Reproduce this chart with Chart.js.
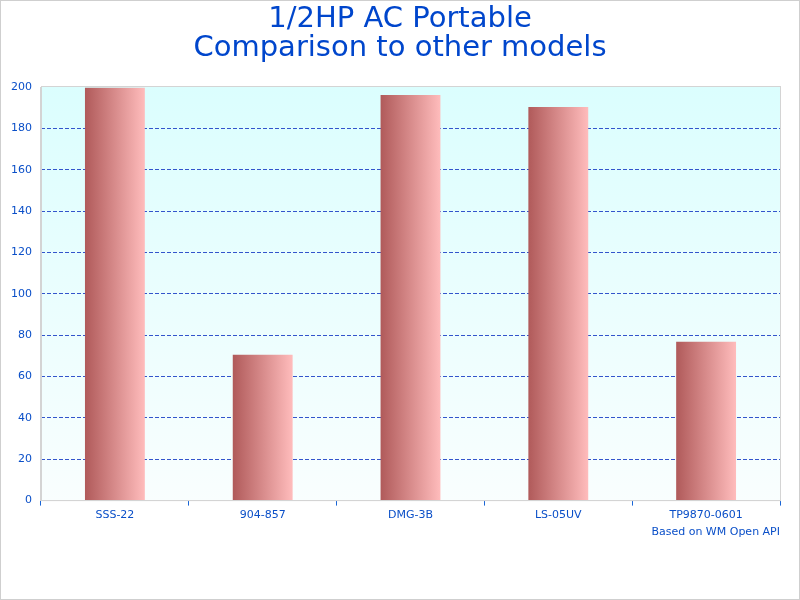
<!DOCTYPE html>
<html>
<head>
<meta charset="utf-8">
<script src="https://cdn.jsdelivr.net/npm/chart.js@4/dist/chart.umd.min.js"></script>
<style>
  html, body { margin: 0; padding: 0; background: #ffffff; }
  #wrap { width: 800px; height: 600px; position: relative; }
</style>
</head>
<body>
<div id="wrap"><canvas id="c" width="800" height="600"></canvas></div>
<script>
const titleLines = ['1/2HP AC Portable', 'Comparison to other models'];
const categories = ['SSS-22', '904-857', 'DMG-3B', 'LS-05UV', 'TP9870-0601'];
const values = [199.6, 70.5, 196.1, 190.3, 76.8];
const yTicksMin = 0;
const yTicksMax = 200;
const yTickStep = 20;
const footnote = 'Based on WM Open API';

const FONT = "'DejaVu Sans', Verdana, sans-serif";
const BLUE = '#0a4fc8';

const decorPlugin = {
  id: 'decor',
  afterLayout(chart) {
    const t = chart.titleBlock;
    if (t) { t.left = 0; t.right = chart.width; t.width = chart.width; }
  },
  beforeDraw(chart) {
    const { ctx, chartArea: a } = chart;
    ctx.save();
    ctx.fillStyle = '#ffffff';
    ctx.fillRect(0, 0, chart.width, chart.height);
    const g = ctx.createLinearGradient(0, a.top, 0, a.bottom);
    g.addColorStop(0, '#dbfefe');
    g.addColorStop(1, '#f9fefe');
    ctx.fillStyle = g;
    ctx.fillRect(a.left, a.top, a.right - a.left, a.bottom - a.top);
    ctx.restore();
  },
  afterDraw(chart) {
    const { ctx, chartArea: a } = chart;
    ctx.save();
    ctx.strokeStyle = '#d4d4d4';
    ctx.lineWidth = 1;
    ctx.strokeRect(a.left + 0.5, a.top - 0.5, a.right - a.left, a.bottom - a.top + 0.5);
    ctx.strokeStyle = '#cfcfcf';
    ctx.strokeRect(0.5, 0.5, chart.width - 1, chart.height - 1);
    ctx.restore();
  }
};

function barGradient(context) {
  const chart = context.chart;
  const xs = chart.scales && chart.scales.x;
  if (!chart.chartArea || !xs || context.dataIndex === undefined) return '#d88888';
  const meta = chart.getDatasetMeta(0);
  const el = meta.data[context.dataIndex];
  let cx = xs.getPixelForValue(context.dataIndex);
  let w = (xs.width / categories.length) * 0.405;
  if (el && el.width) { w = el.width; }
  const g = chart.ctx.createLinearGradient(cx - w / 2, 0, cx + w / 2, 0);
  g.addColorStop(0, '#b05a5a');
  g.addColorStop(1, '#ffbcbc');
  return g;
}

new Chart(document.getElementById('c'), {
  type: 'bar',
  data: {
    labels: categories,
    datasets: [{
      data: values,
      backgroundColor: barGradient,
      borderWidth: 0,
      barPercentage: 0.405,
      categoryPercentage: 1.0
    }]
  },
  options: {
    responsive: false,
    animation: false,
    layout: { padding: { top: 5, left: 2, right: 20, bottom: 61 } },
    plugins: {
      legend: { display: false },
      tooltip: { enabled: false },
      title: {
        display: true,
        text: titleLines,
        color: '#0046cc',
        font: { family: FONT, size: 29, weight: 'normal', lineHeight: 1.0 },
        padding: { top: 0, bottom: 24 }
      }
    },
    scales: {
      x: {
        offset: true,
        grid: {
          display: true,
          drawOnChartArea: false,
          drawTicks: true,
          tickLength: 5,
          color: '#1a66d6',
          offset: true
        },
        border: { display: true, color: '#d4d4d4' },
        ticks: {
          color: BLUE,
          font: { family: FONT, size: 11 },
          padding: 3,
          maxRotation: 0,
          autoSkip: false
        },
        title: {
          display: true,
          text: footnote,
          align: 'end',
          color: BLUE,
          font: { family: FONT, size: 11 },
          padding: { top: 1, bottom: 0 }
        }
      },
      y: {
        min: yTicksMin,
        max: yTicksMax,
        grid: {
          drawTicks: false,
          color: (c) => (c.tick && (c.tick.value === yTicksMin || c.tick.value === yTicksMax)) ? 'rgba(0,0,0,0)' : '#3355cc',
          lineWidth: 1
        },
        border: { display: true, color: '#d4d4d4', dash: [4, 2] },
        ticks: {
          stepSize: yTickStep,
          color: BLUE,
          font: { family: FONT, size: 11 },
          padding: 9
        }
      }
    }
  },
  plugins: [decorPlugin]
});
</script>
</body>
</html>
